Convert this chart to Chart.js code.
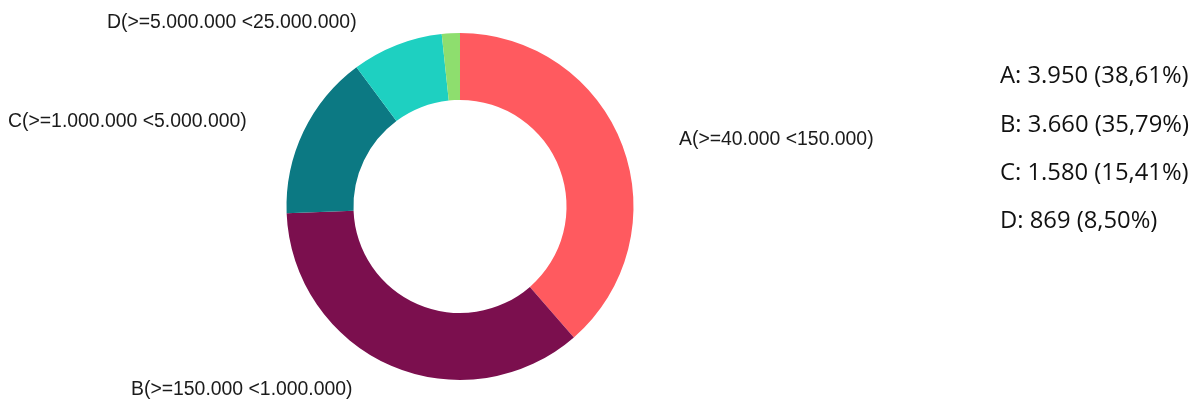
<!DOCTYPE html>
<html>
<head>
<meta charset="utf-8">
<script src="https://cdn.jsdelivr.net/npm/chart.js@4.4.1/dist/chart.umd.min.js"></script>
<style>
  html, body { margin: 0; padding: 0; background: #ffffff; }
  #wrap { position: relative; width: 1203px; height: 401px; }
</style>
</head>
<body>
<div id="wrap"><canvas id="c" width="1203" height="401"></canvas></div>
<script>
// ---- data ----
const categories = ['A', 'B', 'C', 'D', 'E'];
const rangeLabels = ['A(>=40.000 <150.000)', 'B(>=150.000 <1.000.000)', 'C(>=1.000.000 <5.000.000)', 'D(>=5.000.000 <25.000.000)', ''];
const values = [3950, 3660, 1580, 869, 172];
const valueTexts = ['3.950', '3.660', '1.580', '869'];
const percentTexts = ['38,61%', '35,79%', '15,41%', '8,50%'];
const colors = ['#FF5A5F', '#7B0F4E', '#0C7983', '#1ED0C1', '#8EDE6E'];

// ---- layout (label offsets relative to the doughnut centre) ----
const labelOffsets = [
  { dx: 219, dy: -67 },   // A
  { dx: -329, dy: 183 },  // B
  { dx: -452, dy: -84.5 },// C
  { dx: -353, dy: -183.5 },// D
  null
];

const labelPlugin = {
  id: 'labelPlugin',
  afterDraw(chart) {
    const ctx = chart.ctx;
    const arc = chart.getDatasetMeta(0).data[0];
    const cx = arc.x, cy = arc.y;
    ctx.save();
    ctx.fillStyle = '#1b1b1b';
    ctx.font = '19.4px "Liberation Sans", Arial, sans-serif';
    ctx.textAlign = 'left';
    ctx.textBaseline = 'middle';
    rangeLabels.forEach((t, i) => {
      const o = labelOffsets[i];
      if (!t || !o) return;
      ctx.fillText(t, cx + o.dx, cy + o.dy);
    });
    // summary list on the right
    ctx.fillStyle = '#111111';
    ctx.font = '23.8px "Open Sans", sans-serif';
    const x0 = 1000, y0 = 76.5, step = 48.3;
    valueTexts.forEach((v, i) => {
      ctx.fillText(categories[i] + ': ' + v + ' (' + percentTexts[i] + ')', x0, y0 + i * step);
    });
    ctx.restore();
  }
};

new Chart(document.getElementById('c'), {
  type: 'doughnut',
  data: {
    labels: categories,
    datasets: [{
      data: values,
      backgroundColor: colors,
      borderWidth: 0,
      hoverOffset: 0
    }]
  },
  options: {
    responsive: false,
    animation: false,
    cutout: '61.4%',
    layout: { padding: { left: 286.5, right: 569.5, top: 33, bottom: 21 } },
    plugins: {
      legend: { display: false },
      tooltip: { enabled: false }
    }
  },
  plugins: [labelPlugin]
});
</script>
</body>
</html>
